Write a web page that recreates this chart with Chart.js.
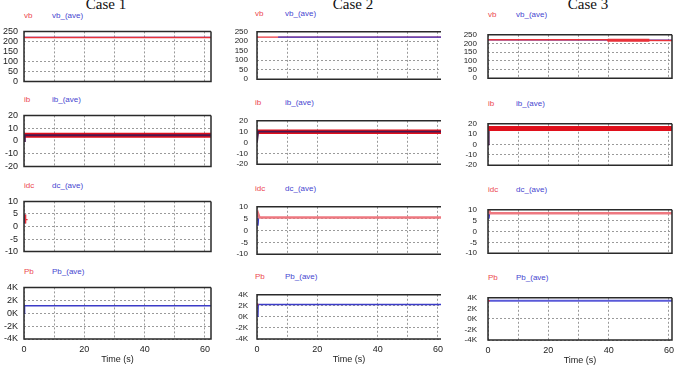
<!DOCTYPE html>
<html><head><meta charset="utf-8">
<script src="https://cdn.jsdelivr.net/npm/chart.js@4.4.1/dist/chart.umd.min.js"></script>
<style>
  html,body{margin:0;padding:0;background:#fff;width:678px;height:368px;overflow:hidden;font-family:"Liberation Sans",Arial,sans-serif}
  .case{position:absolute;top:-3px;font:15px/15px "Liberation Serif","Times New Roman",serif;color:#111;transform:translateX(-50%);white-space:nowrap}
  .lbl{position:absolute;font-size:8px;line-height:10px;white-space:nowrap}
  .box{position:absolute}
</style></head><body>
<script>
// 3 casos x 4 señales (vb, ib, idc, Pb) — curvas planas tipo PSIM
const caseNames = ['Case 1', 'Case 2', 'Case 3'];
const xTicks    = [0, 10, 20, 30, 40, 50, 60];
const xLabels   = [0, 20, 40, 60];
const vTicks    = [0, 50, 100, 150, 200, 250];
const iTicks    = [-20, -10, 0, 10, 20];
const dcTicks   = [-10, -5, 0, 5, 10];
const pTicks    = [-4000, -2000, 0, 2000, 4000];
const rowNames  = [['vb','vb_(ave)'], ['ib','ib_(ave)'], ['idc','dc_(ave)'], ['Pb','Pb_(ave)']];

// Case 1  ([t, valor])
const c1Vb     = [[0,220],[62,220]];
const c1VbAve  = [[0,220],[62,220]];
const c1Ib     = [[0,4.5],[62,4.5]];
const c1IbAve  = [[0,0],[0.3,4.5],[62,4.5]];
const c1Idc    = [[0.4,4.8],[0.5,1.2],[0.6,2.7],[1.2,2.7]];
const c1IdcAve = [[0.3,1.2],[0.3,4.8]];
const c1Pb     = [[0,1150],[0.3,1150]];
const c1PbAve  = [[0,0],[0.2,1150],[62,1150]];
// Case 2
const c2Vb     = [[0,222],[61,222]];
const c2VbAve  = [[7,222],[61,222]];
const c2Ib     = [[0,10],[61,10]];
const c2IbAve  = [[0,0],[0.4,10],[61,10]];
const c2Idc    = [[0.2,5.5],[0.4,7],[0.8,5.5],[61,5.5]];
const c2IdcAve = [[0.3,2],[0.5,5.5]];
const c2Pb     = [[0,2260],[0.5,2260]];
const c2PbAve  = [[0.3,0],[0.4,2260],[61,2260]];
// Case 3
const c3Vb      = [[0,221],[39.6,221],[39.7,218],[61,217.5]];
const c3VbRipple= [[39.7,218],[53.5,218]];
const c3VbAve   = [[0,220],[61,219]];
const c3Ib      = [[0,15.5],[61,15.5]];
const c3IbAve   = [[0,0],[0.3,15.5],[61,15.5]];
const c3Idc     = [[0.2,8.4],[0.4,9.6],[0.7,8.4],[61,8.4]];
const c3IdcAve  = [[0.3,5.9],[0.5,8.4]];
const c3Pb      = [[0,3430],[0.6,3430]];
const c3PbAve   = [[0,3430],[61,3430]];

(function () {
  const RED = '#e8323a', BAND = '#e0101c', PINK = '#ee7880', BLUE = '#3c3cc8', DARK = '#4a1850';
  const yW = 26, padT = 6, padR = 3, padB = 6;

  const cols = [
    { left:24,  width:187, max:62, pad:6,  font:9, skipX:[],   openRight:false, title:106,
      rows:[[26,61],[110,62],[196,61],[282,57]], skipY:[[150],[0],[],[]] },
    { left:257, width:184, max:61, pad:9,  font:8, skipX:[30], openRight:true,  title:353,
      rows:[[24,63],[113,59],[199,63],[287,52]], skipY:[[150],[0],[],[]] },
    { left:488, width:184, max:61, pad:11, font:8, skipX:[50], openRight:false, title:588,
      rows:[[25,63],[114,61],[200,63],[288,52]], skipY:[[],[10],[],[2000,-2000]] },
  ];
  const yTicks = [vTicks, iTicks, dcTicks, pTicks];
  const yText  = [v => String(v), v => String(v), v => String(v), v => (v/1000) + 'K'];

  const line = (data, color, w) => ({ data, borderColor: color, borderWidth: w, pointRadius: 0, tension: 0, fill: false, borderCapStyle: 'butt' });
  // el primer dataset se dibuja encima
  const series = [
    [ [line(c1Vb,RED,1.5), line(c1VbAve,BLUE,1.2)],
      [line(c1IbAve,DARK,1.8), line(c1Ib,BAND,5)],
      [line(c1Idc,RED,1.3), line(c1IdcAve,'#302080',1.5)],
      [line(c1PbAve,BLUE,1.4), line(c1Pb,RED,1.2)] ],
    [ [line(c2VbAve,BLUE,1.4), line(c2Vb,RED,1.4)],
      [line(c2IbAve,DARK,1.8), line(c2Ib,BAND,4.5)],
      [line(c2Idc,PINK,2.5), line(c2IdcAve,BLUE,1.5)],
      [line(c2Pb,RED,1.5), line(c2PbAve,BLUE,1.5)] ],
    [ [line(c3VbRipple,RED,3), line(c3Vb,RED,1.5), line(c3VbAve,BLUE,1.2)],
      [line(c3Ib,BAND,5), line(c3IbAve,DARK,1.5)],
      [line(c3Idc,PINK,2.5), line(c3IdcAve,BLUE,1.5)],
      [line(c3Pb,RED,1.5), line(c3PbAve,'#5a5ad8',2)] ],
  ];

  const frame = {
    id: 'frame',
    afterDraw(chart, args, o) {
      const { ctx, chartArea: a } = chart;
      ctx.save();
      ctx.strokeStyle = '#2a2a2a'; ctx.lineWidth = 1.5;
      ctx.beginPath();
      ctx.moveTo(a.right, a.top); ctx.lineTo(a.left, a.top); ctx.lineTo(a.left, a.bottom); ctx.lineTo(a.right, a.bottom);
      if (!o.openRight) ctx.lineTo(a.right, a.top);
      ctx.stroke();
      ctx.restore();
    }
  };

  const add = (cls, text, css) => {
    const d = document.createElement('div');
    d.className = cls; d.textContent = text; Object.assign(d.style, css);
    document.body.appendChild(d);
  };

  cols.forEach((col, c) => {
    add('case', caseNames[c], { left: col.title + 'px' });
    col.rows.forEach(([top, h], r) => {
      const bottomRow = r === 3;
      add('lbl', rowNames[r][0], { left: (col.left - (c === 1 ? 2 : 0)) + 'px', top: (top - 15) + 'px', color: '#ec4850' });
      add('lbl', rowNames[r][1], { left: (col.left + 28) + 'px', top: (top - 15) + 'px', color: '#4646d0' });

      const box = document.createElement('div');
      box.className = 'box';
      Object.assign(box.style, {
        left: (col.left - yW) + 'px', top: (top - padT) + 'px',
        width: (yW + col.width + padR) + 'px', height: (padT + h + (bottomRow ? 26 : padB)) + 'px'
      });
      const cv = document.createElement('canvas');
      box.appendChild(cv); document.body.appendChild(box);

      const skipY = col.skipY[r];
      new Chart(cv, {
        type: 'line',
        data: { datasets: series[c][r] },
        plugins: [frame],
        options: {
          responsive: true, maintainAspectRatio: false, animation: false, events: [],
          layout: { padding: { top: padT, right: padR, left: 0, bottom: bottomRow ? 0 : padB } },
          plugins: { legend: { display: false }, tooltip: { enabled: false }, frame: { openRight: col.openRight } },
          scales: {
            x: {
              type: 'linear', min: 0, max: col.max,
              afterBuildTicks: s => { s.ticks = xTicks.map(v => ({ value: v })); },
              afterFit: s => { s.height = bottomRow ? 26 : 0; s.paddingLeft = 0; s.paddingRight = 0; },
              ticks: { display: bottomRow, autoSkip: false, maxRotation: 0, padding: 5, color: '#222', font: { size: 9 },
                       callback: v => xLabels.includes(v) ? String(v) : '' },
              grid: { drawTicks: false, lineWidth: 1,
                      color: ctx => (ctx.tick && col.skipX.includes(ctx.tick.value)) ? 'rgba(0,0,0,0)' : '#9a9a9a' },
              border: { display: false, dash: [2, 2] },
              title: { display: bottomRow, text: 'Time (s)', color: '#222', font: { size: 9 }, padding: { top: 1, bottom: 0 } }
            },
            y: {
              min: yTicks[r][0], max: yTicks[r][yTicks[r].length - 1],
              afterBuildTicks: s => { s.ticks = yTicks[r].map(v => ({ value: v })); },
              afterFit: s => { s.width = yW; },
              ticks: { autoSkip: false, padding: col.pad, color: '#222', font: { size: col.font }, callback: v => yText[r](v) },
              grid: { drawTicks: false, lineWidth: 1,
                      color: ctx => (ctx.tick && skipY.includes(ctx.tick.value)) ? 'rgba(0,0,0,0)' : '#9a9a9a' },
              border: { display: false, dash: [2, 2] }
            }
          }
        }
      });
    });
  });
})();
</script>
</body></html>
